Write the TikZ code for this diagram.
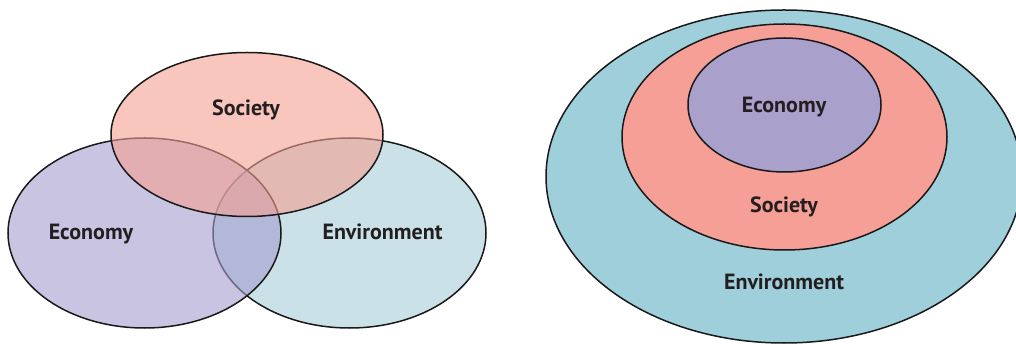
\documentclass[tikz,border=0pt]{standalone}
\usepackage{fontspec}
\setmainfont{PT Sans}
\usetikzlibrary{shapes.geometric}
\definecolor{socV}{RGB}{245,160,145}
\definecolor{ecoV}{RGB}{165,157,207}
\definecolor{envV}{RGB}{167,205,217}
\definecolor{envR}{RGB}{160,207,220}
\definecolor{socR}{RGB}{245,159,150}
\definecolor{ecoR}{RGB}{169,160,204}
\definecolor{txt}{RGB}{35,31,32}
\tikzset{
  ring/.style={ellipse, draw=black!90, line width=1.5pt, inner sep=0pt, outer sep=0pt},
  venn/.style={ring, fill opacity=0.6},
  lbl/.style={text=txt, font=\bfseries\fontsize{22}{26}\selectfont, anchor=base, inner sep=0pt}
}
\begin{document}
\begin{tikzpicture}[x=1pt,y=-1pt]
\useasboundingbox (0,0) rectangle (1016,344);
% left Venn
\node[venn, fill=envV, minimum width=273pt, minimum height=190pt] (env) at (349.5,233) {};
\node[venn, fill=ecoV, minimum width=273pt, minimum height=190pt] (eco) at (144.5,233) {};
\node[venn, fill=socV, minimum width=272pt, minimum height=164pt] (soc) at (247,134.5) {};
\node[lbl] (socL) at (246,116) {Society};
\node[lbl] (ecoL) at (91,240) {Economy};
\node[lbl] (envL) at (382.5,240) {Environment};
% right nested
\node[ring, fill=envR, minimum width=476pt, minimum height=333pt] (envO) at (784,176.5) {};
\node[ring, fill=socR, minimum width=325pt, minimum height=226pt] (socO) at (784.5,137) {};
\node[ring, fill=ecoR, minimum width=193pt, minimum height=134pt] (ecoO) at (784.5,105) {};
\node[lbl] (ecoOL) at (784,113) {Economy};
\node[lbl] (socOL) at (784,213) {Society};
\node[lbl] (envOL) at (784,290) {Environment};
\end{tikzpicture}
\end{document}
